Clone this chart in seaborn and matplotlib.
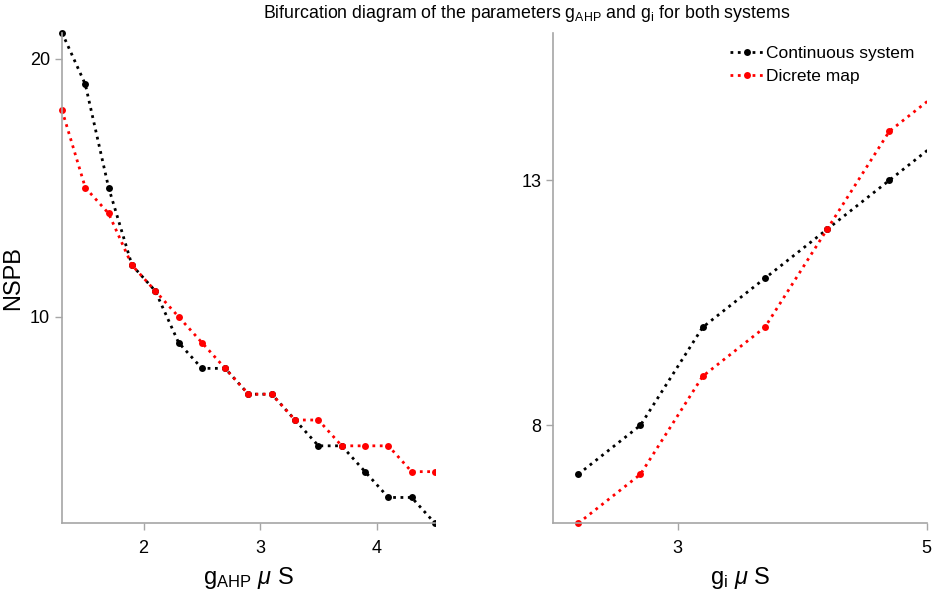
import matplotlib
matplotlib.use('Agg')
import matplotlib.pyplot as plt
from matplotlib.patches import Rectangle
import seaborn as sns

# left panel: NSPB vs g_AHP
g_ahp = [1.3, 1.5, 1.7, 1.9, 2.1, 2.3, 2.5, 2.7, 2.9, 3.1, 3.3, 3.5, 3.7, 3.9, 4.1, 4.3, 4.5]
cont_ahp = [21, 19, 15, 12, 11, 9, 8, 8, 7, 7, 6, 5, 5, 4, 3, 3, 2]
disc_ahp = [18, 15, 14, 12, 11, 10, 9, 8, 7, 7, 6, 6, 5, 5, 5, 4, 4]

# right panel: NSPB vs g_i
g_i = [2.2, 2.7, 3.2, 3.7, 4.2, 4.7, 5.2]
cont_gi = [7, 8, 10, 11, 12, 13, 14]
disc_gi = [6, 7, 9, 10, 12, 14, 15]

sns.set_style('white')
plt.rcParams['font.family'] = ['Liberation Sans', 'DejaVu Sans']
plt.rcParams['mathtext.fontset'] = 'custom'
plt.rcParams['mathtext.rm'] = 'Liberation Sans'
plt.rcParams['mathtext.it'] = 'Liberation Sans:italic'
plt.rcParams['text.color'] = 'black'
plt.rcParams['axes.labelcolor'] = 'black'
plt.rcParams['xtick.labelcolor'] = 'black'
plt.rcParams['ytick.labelcolor'] = 'black'

fig = plt.figure(figsize=(9.35, 5.99), dpi=100)
ax1 = fig.add_axes([0.0663, 0.1264, 0.3989, 0.8190])
ax2 = fig.add_axes([0.5918, 0.1264, 0.3993, 0.8180])

line_kw = dict(marker='o', linestyle=':', linewidth=2, markersize=5, markeredgewidth=0)


def draw(ax, x, y1, y2, legend):
    sns.lineplot(x=x, y=y1, ax=ax, color='black', label='Continuous system', **line_kw)
    sns.lineplot(x=x, y=y2, ax=ax, color='#ff0000', label='Dicrete map', **line_kw)
    clip = Rectangle((-0.02, -0.02), 1.02, 1.04, transform=ax.transAxes,
                     facecolor='none', edgecolor='none')
    for ln in ax.lines:
        ln.set_clip_path(clip)
    for s in ['top', 'right']:
        ax.spines[s].set_visible(False)
    for s in ['left', 'bottom']:
        ax.spines[s].set_color('#a6a6a6')
        ax.spines[s].set_linewidth(1.2)
    ax.tick_params(axis='both', direction='out', length=5, width=1, color='#a6a6a6',
                   labelsize=13, labelcolor='black', bottom=True, left=True)
    ax.tick_params(axis='x', pad=7)
    if legend:
        ax.legend(loc='upper right', frameon=False, fontsize=12.5, handlelength=2.0,
                  handletextpad=0.1, labelspacing=0.5, borderaxespad=0.3)
    else:
        ax.get_legend().remove()


draw(ax1, g_ahp, cont_ahp, disc_ahp, False)
ax1.set_xlim(1.3, 4.5)
ax1.set_ylim(2, 21)
ax1.set_xticks([2, 3, 4])
ax1.set_yticks([10, 20])
ax1.set_xlabel(r'$\mathrm{g_{AHP}}$ $\mu$ S', fontsize=17, labelpad=6)
ax1.set_ylabel('NSPB', fontsize=17)

draw(ax2, g_i, cont_gi, disc_gi, True)
ax2.set_xlim(2, 5)
ax2.set_ylim(6, 16)
ax2.set_xticks([3, 5])
ax2.set_yticks([8, 13])
ax2.set_xlabel(r'$\mathrm{g_i}$ $\mu$ S', fontsize=17, labelpad=6)

fig.text(0.5636, 0.995, r'Bifurcation diagram of the parameters $\mathrm{g_{AHP}}$ and $\mathrm{g_i}$ for both systems',
         ha='center', va='top', fontsize=12.8)

plt.savefig('out.png', dpi=100)
